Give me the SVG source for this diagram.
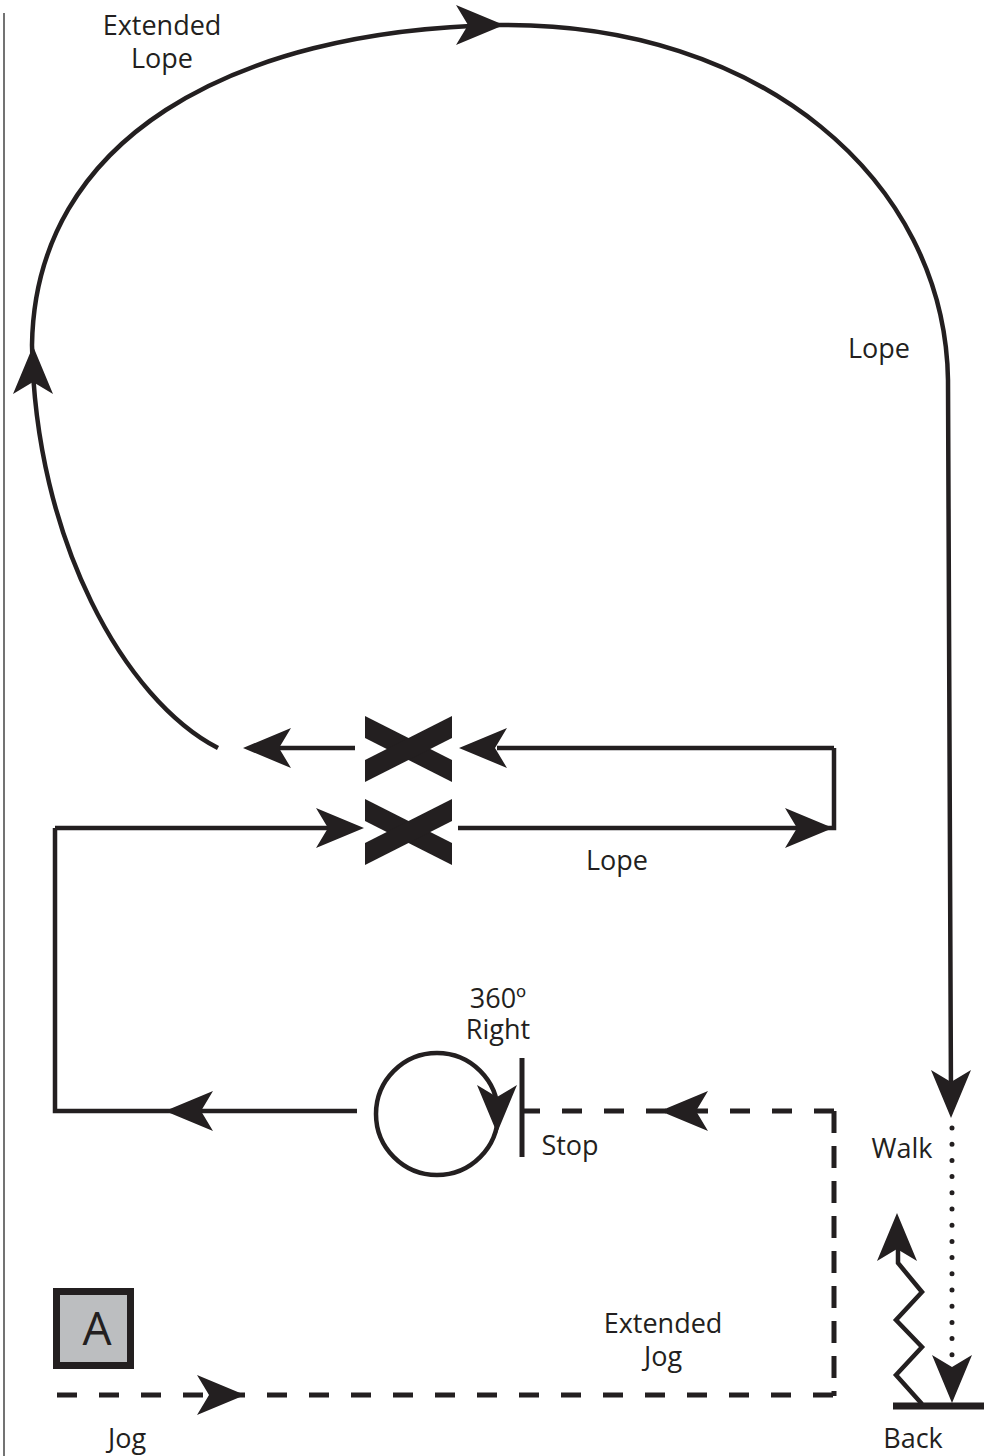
<svg xmlns="http://www.w3.org/2000/svg" width="992" height="1456" viewBox="0 0 992 1456">
<style>
.ln{fill:none;stroke:#231f20;stroke-width:4.5}
.ds{fill:none;stroke:#231f20;stroke-width:5;stroke-dasharray:20 22}
.dv{fill:none;stroke:#231f20;stroke-width:5;stroke-dasharray:22 13}
.ah{fill:#231f20}
.t{font-family:"Open Sans","Noto Sans",sans-serif;font-size:27px;fill:#231f20;text-anchor:middle}
</style>
<defs>
<path id="ah" d="M0,0 L-48,-20 L-36,0 L-48,20 Z"/>
</defs>
<rect width="992" height="1456" fill="#fff"/>
<line x1="4" y1="13" x2="4" y2="1456" stroke="#444" stroke-width="1.5"/>
<g id="connectors">
<path class="ln" d="M218,748 C125,700 35,540 32,345 C35,140 230,30 500,25 C760,22 945,180 948,380 L951,1100"/>
<path class="ln" d="M834,748 L497,748 M355,748 L250,748"/>
<path class="ln" d="M834,748 L834,828 L458,828"/>
<path class="ln" d="M55,828 L330,828"/>
<path class="ln" d="M357,1111 L55,1111 L55,828"/>
<line class="ds" x1="834" y1="1111" x2="520" y2="1111"/>
<line class="dv" x1="834" y1="1111" x2="834" y2="1396"/>
<line class="ds" x1="57" y1="1395" x2="834" y2="1395"/>
<line x1="952" y1="1128" x2="952" y2="1365" stroke="#231f20" stroke-width="5" stroke-linecap="round" stroke-dasharray="0 16.2"/>
<polyline class="ln" points="922,1404 896,1375 922,1347 896,1320 922,1292 898,1263 898,1240"/>
<line x1="893" y1="1406" x2="984" y2="1406" stroke="#231f20" stroke-width="7"/>
<line x1="522" y1="1058" x2="522" y2="1157" stroke="#231f20" stroke-width="5"/>
<circle class="ln" cx="437" cy="1114" r="61"/>
<g class="ah">
<use href="#ah" transform="translate(504,25)"/>
<use href="#ah" transform="translate(33,346) rotate(-90)"/>
<use href="#ah" transform="translate(951,1118) rotate(90)"/>
<use href="#ah" transform="translate(243,748) rotate(180)"/>
<use href="#ah" transform="translate(459,748) rotate(180)"/>
<use href="#ah" transform="translate(364,828)"/>
<use href="#ah" transform="translate(833,828)"/>
<use href="#ah" transform="translate(165,1111) rotate(180)"/>
<use href="#ah" transform="translate(660,1111) rotate(180)"/>
<use href="#ah" transform="translate(245,1395)"/>
<use href="#ah" transform="translate(497,1133) rotate(90)"/>
<use href="#ah" transform="translate(952,1403) rotate(90)"/>
<use href="#ah" transform="translate(897,1213) rotate(-90)"/>
</g>
</g>
<g id="x-upper" fill="#231f20">
<polygon points="365,716 365,738 452,782 452,760"/>
<polygon points="452,716 452,738 365,782 365,760"/>
</g>
<g id="x-lower" fill="#231f20">
<polygon points="365,799 365,821 452,865 452,843"/>
<polygon points="452,799 452,821 365,865 365,843"/>
</g>
<g id="marker-a">
<rect x="56.5" y="1291.5" width="74" height="74" fill="#bcbec0" stroke="#231f20" stroke-width="7"/>
<text class="t" x="97" y="1345" style="font-size:46px">A</text>
</g>
<g id="labels">
<text class="t" x="162" y="35">Extended</text>
<text class="t" x="162" y="68">Lope</text>
<text class="t" x="879" y="358">Lope</text>
<text class="t" x="617" y="870">Lope</text>
<text class="t" x="498" y="1008">360º</text>
<text class="t" x="498" y="1039">Right</text>
<text class="t" x="570" y="1155">Stop</text>
<text class="t" x="902" y="1158">Walk</text>
<text class="t" x="663" y="1333">Extended</text>
<text class="t" x="663" y="1366">Jog</text>
<text class="t" x="127" y="1448">Jog</text>
<text class="t" x="913" y="1448">Back</text>
</g>
</svg>
